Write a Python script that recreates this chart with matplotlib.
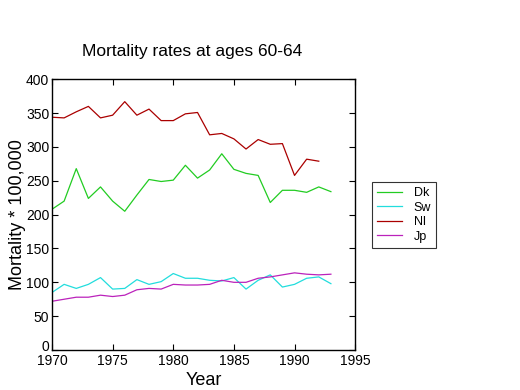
import matplotlib
matplotlib.use("Agg")
import matplotlib.pyplot as plt
from matplotlib.lines import Line2D
from matplotlib.transforms import ScaledTranslation

plt.rcParams['font.family'] = ['Liberation Sans', 'DejaVu Sans']

years = list(range(1970, 1994))
dk = [208, 220, 268, 224, 241, 220, 205, 229, 252, 249, 251, 273, 254, 266,
      290, 267, 261, 258, 218, 236, 236, 233, 241, 234]
sw = [85, 97, 91, 97, 107, 90, 91, 104, 97, 101, 113, 106, 106, 103,
      102, 107, 90, 103, 111, 93, 97, 106, 108, 98]
nl_years = list(range(1970, 1993))
nl = [344, 343, 352, 360, 343, 347, 367, 347, 356, 339, 339, 349, 351, 318,
      320, 312, 297, 311, 304, 305, 258, 282, 279]
jp = [72, 75, 78, 78, 81, 79, 81, 89, 91, 90, 97, 96, 96, 97,
      103, 100, 100, 106, 108, 111, 114, 112, 111, 112]

labels = ['Dk', 'Sw', 'Nl', 'Jp']
colors = ['#22cc22', '#22dddd', '#aa0000', '#bb22bb']

fig = plt.figure(figsize=(5.2, 3.9), dpi=100)
ax = fig.add_axes([0.1, 0.1026, 0.583, 0.694])

ax.plot(years, dk, color=colors[0], lw=0.9)
ax.plot(years, sw, color=colors[1], lw=0.9)
ax.plot(nl_years, nl, color=colors[2], lw=0.9)
ax.plot(years, jp, color=colors[3], lw=0.9)

ax.set_xlim(1970, 1995)
ax.set_ylim(0, 400)
ax.set_xticks(range(1970, 1996, 5))
ax.set_yticks(range(0, 401, 50))
ax.tick_params(direction='in', top=True, right=True, labelsize=10, length=4, width=0.8, pad=3)
ax.tick_params(axis='y', pad=2)
for s in ax.spines.values():
    s.set_linewidth(1.0)

# nudge the "0" label up slightly so it doesn't collide with "1970"
fig.canvas.draw()
ylabs = ax.get_yticklabels()
ylabs[0].set_transform(ylabs[0].get_transform() + ScaledTranslation(0, 3 / 72, fig.dpi_scale_trans))

ax.set_xlabel('Year', fontsize=13, labelpad=3)
ax.set_ylabel('Mortality * 100,000', fontsize=13, labelpad=0)
fig.text(0.37, 0.868, 'Mortality rates at ages 60-64', ha='center', va='center', fontsize=12.5)

handles = [Line2D([], [], color=c, lw=0.9) for c in colors]
leg = fig.legend(handles, labels, loc='upper left', bbox_to_anchor=(0.716, 0.533),
                 frameon=True, fancybox=False, edgecolor='black', fontsize=9,
                 handlelength=2.0, handletextpad=0.9, labelspacing=0.2,
                 borderpad=0.4, borderaxespad=0)
leg.get_frame().set_linewidth(0.8)

fig.savefig('out.png', dpi=100)
